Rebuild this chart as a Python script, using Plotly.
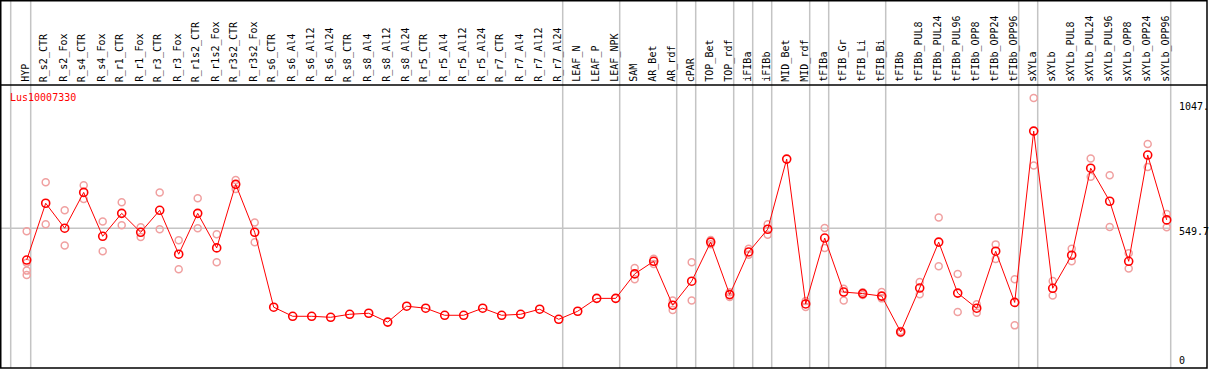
import plotly.graph_objects as go

categories = ["HYP","R_s2_CTR","R_s2_Fox","R_s4_CTR","R_s4_Fox","R_r1_CTR","R_r1_Fox","R_r3_CTR","R_r3_Fox",
              "R_r1s2_CTR","R_r1s2_Fox","R_r3s2_CTR","R_r3s2_Fox","R_s6_CTR","R_s6_Al4","R_s6_Al12","R_s6_Al24",
              "R_s8_CTR","R_s8_Al4","R_s8_Al12","R_s8_Al24","R_r5_CTR","R_r5_Al4","R_r5_Al12","R_r5_Al24",
              "R_r7_CTR","R_r7_Al4","R_r7_Al12","R_r7_Al24","LEAF_N","LEAF_P","LEAF_NPK","SAM","AR_Bet","AR_rdf",
              "cPAR","TOP_Bet","TOP_rdf","iFIBa","iFIBb","MID_Bet","MID_rdf","tFIBa","tFIB_Gr","tFIB_Li","tFIB_Bi",
              "tFIBb","tFIBb_PUL8","tFIBb_PUL24","tFIBb_PUL96","tFIBb_OPP8","tFIBb_OPP24","tFIBb_OPP96",
              "sXYLa","sXYLb","sXYLb_PUL8","sXYLb_PUL24","sXYLb_PUL96","sXYLb_OPP8","sXYLb_OPP24","sXYLb_OPP96"]

mean_values = [424,649,550,692,518,609,534,621,447,609,472,724,534,237,201,201,197,209,213,178,241,233,205,205,233,
               205,209,229,189,221,272,272,369,419,245,340,495,287,456,546,824,250,511,297,291,281,139,313,495,293,
               233,459,256,935,312,443,788,657,419,840,583]

rep1 = [538,732,621,720,577,653,554,692,502,669,526,741,573,None,None,None,None,None,None,None,None,None,None,None,None,
        None,None,None,None,None,None,None,392,429,264,415,503,296,469,566,None,262,551,310,296,297,143,337,593,369,
        249,486,348,1066,341,469,826,760,451,884,606]
rep2 = [382,566,482,666,459,562,515,546,387,550,415,706,494,None,None,None,None,None,None,None,None,None,None,None,None,
        None,None,None,None,None,None,None,348,408,226,264,487,277,445,524,None,238,472,264,285,272,135,288,399,218,
        215,428,165,799,283,419,754,555,390,793,554]
rep3 = [365] + [None]*60
rep4 = [413] + [None]*60

axis_labels = ["1047.", "549.7", "0"]
axis_values = [1047, 549.7, 0]
gene_name = "Lus10007330"
group_ends = [-1, 0, 28, 31, 34, 35, 37, 38, 39, 41, 42, 45, 52, 53, 60]

W, H = 1209, 370
TOP, BOT = 85, 368
PH = BOT - TOP
X0PIX, STEP = 26.7, 19.0
xr0 = -X0PIX / STEP
xr1 = xr0 + W / STEP
yr0 = (367 - BOT) / 0.2523
yr1 = (367 - TOP) / 0.2523

def px_x(p):
    return p / W

def px_y(p):
    return (BOT - p) / PH

RED = "#ff0000"
PALE = "#f0a0a0"
GRAY = "#c4c4c4"
FONT = "DejaVu Sans Mono"

fig = go.Figure()
xs = list(range(len(categories)))
for rep in (rep1, rep2, rep3, rep4):
    fig.add_trace(go.Scatter(x=xs, y=rep, mode="markers",
                             marker=dict(symbol="circle-open", size=7, color=PALE, line=dict(width=1.5, color=PALE)),
                             hoverinfo="skip", cliponaxis=False))
fig.add_trace(go.Scatter(x=xs, y=mean_values, mode="lines+markers",
                         line=dict(color=RED, width=1),
                         marker=dict(symbol="circle-open", size=8, color=RED, line=dict(width=1.6, color=RED)),
                         cliponaxis=False))

shapes = []
for g in group_ends:
    xp = X0PIX + STEP * g + 4
    if g < 0:
        xp -= 1
    shapes.append(dict(type="line", xref="paper", yref="paper", x0=px_x(xp), x1=px_x(xp),
                       y0=px_y(BOT), y1=px_y(0), line=dict(color=GRAY, width=1.5), layer="below"))
shapes.append(dict(type="line", xref="paper", yref="y", x0=px_x(1), x1=px_x(1170),
                   y0=axis_values[1], y1=axis_values[1], line=dict(color=GRAY, width=1.5), layer="below"))
shapes.append(dict(type="line", xref="paper", yref="paper", x0=px_x(0), x1=px_x(1207),
                   y0=px_y(TOP), y1=px_y(TOP), line=dict(color="black", width=1.5)))
shapes.append(dict(type="rect", xref="paper", yref="paper", x0=px_x(0.75), x1=px_x(1207),
                   y0=px_y(BOT), y1=px_y(0.75), line=dict(color="black", width=1.5)))

annotations = []
for i, c in enumerate(categories):
    annotations.append(dict(x=i, xref="x", y=px_y(83), yref="paper", text=c, textangle=-90,
                            showarrow=False, xanchor="center", yanchor="bottom", xshift=-1,
                            font=dict(family=FONT, size=10, color="black"), borderpad=0))
annotations.append(dict(x=px_x(9), xref="paper", y=px_y(97.5), yref="paper", text=gene_name,
                        showarrow=False, xanchor="left", yanchor="middle",
                        font=dict(family=FONT, size=10, color=RED), borderpad=0))
for lab, val in zip(axis_labels, axis_values):
    if val == 0:
        annotations.append(dict(x=px_x(1178), xref="paper", y=px_y(367), yref="paper", text=lab,
                                showarrow=False, xanchor="left", yanchor="bottom",
                                font=dict(family=FONT, size=10, color="black"), borderpad=0))
    else:
        annotations.append(dict(x=px_x(1178), xref="paper", y=val, yref="y", text=lab,
                                showarrow=False, xanchor="left", yanchor="top", yshift=3,
                                font=dict(family=FONT, size=10, color="black"), borderpad=0))

fig.update_layout(
    width=W, height=H,
    margin=dict(l=0, r=0, t=TOP, b=H - BOT),
    paper_bgcolor="white", plot_bgcolor="white",
    showlegend=False,
    xaxis=dict(visible=False, range=[xr0, xr1], domain=[0, 1]),
    yaxis=dict(visible=False, range=[yr0, yr1]),
    shapes=shapes, annotations=annotations,
)
fig.write_html("out.html", config={"displayModeBar": False},
               post_script="document.body.style.margin='0px';document.body.style.overflow='hidden';")
